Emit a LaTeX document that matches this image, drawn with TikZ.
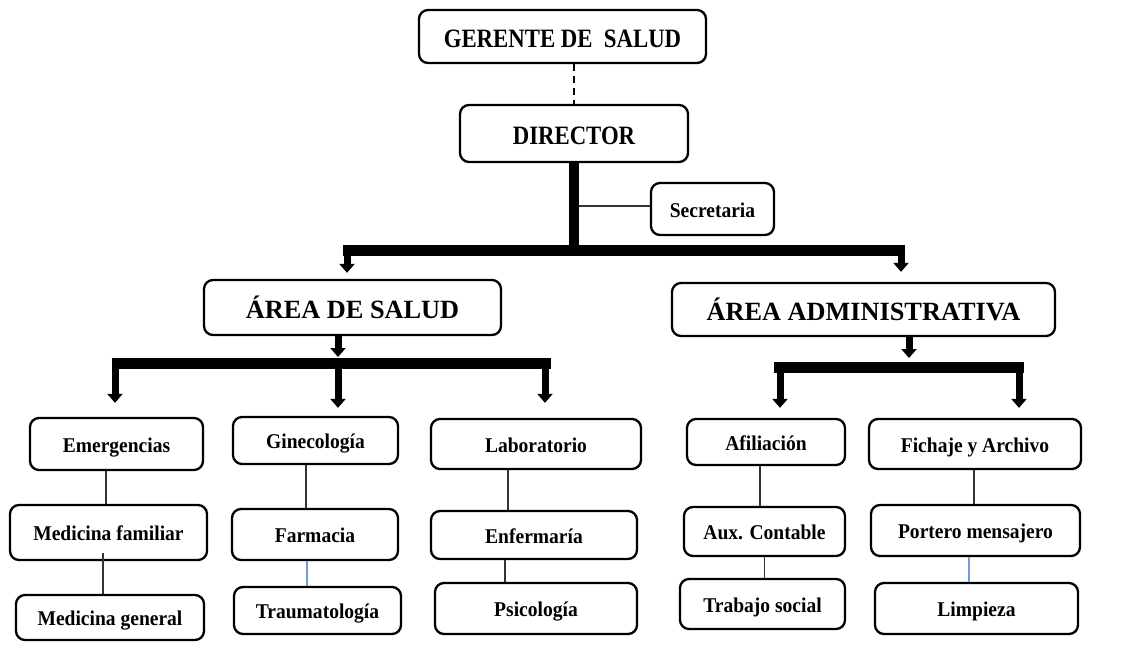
\documentclass[tikz,border=0pt]{standalone}
\usepackage{fontspec}
\setmainfont{Liberation Serif}
\newfontfamily\headfont{Liberation Serif}[FakeStretch=0.86]
\newfontfamily\unitfont{Liberation Serif}[FakeStretch=0.93]
\usetikzlibrary{positioning}
\usetikzlibrary{arrows.meta}
\definecolor{linkblue}{RGB}{112,158,212}

\begin{document}
\begin{tikzpicture}[x=1pt,y=-1pt,
		unit/.style={draw, line width=2.3pt, rounded corners=9pt, fill=white, inner sep=0pt, text height=17.5pt, text depth=1.5pt, font=\unitfont\fontsize{21}{24}\selectfont\bfseries},
		head/.style={unit, text height=23pt, text depth=0.5pt, font=\headfont\fontsize{26.5}{30}\selectfont\bfseries},
		area/.style={unit, text height=23pt, text depth=0.5pt, font=\fontsize{26.3}{30}\selectfont\bfseries},
		link/.style={line width=1.2pt, draw=black!80},
		bluelink/.style={line width=1.2pt, draw=linkblue},
		gap/.style={line width=1.6pt, dash pattern=on 7pt off 5pt},
		trunk/.style={line width=10pt},
		bus/.style={line width=11pt},
		drop/.style={line width=7pt, -{Triangle[width=15pt,length=9pt]}}]
					\useasboundingbox (0,0) rectangle (1132,645);

					% top levels
					\node [head, minimum width=287pt, minimum height=53pt] (ger) at (562.5,36.5) {GERENTE DE\ \ SALUD};
					\node [head, minimum width=228pt, minimum height=57pt] (dir) at (574,133.5) {DIRECTOR};
					\node [unit, minimum width=123pt, minimum height=52pt] (sec) at (712.5,209) {Secretaria};
					\node [area, minimum width=297pt, minimum height=55pt] (sal) at (352.5,307.5) {ÁREA DE SALUD};
					\node [area, minimum width=383pt, minimum height=53pt] (adm) at (863.5,309.5) {ÁREA ADMINISTRATIVA};

					% area de salud
					\node [unit, minimum width=173pt, minimum height=52pt] (eme) at (116.5,444) {Emergencias};
					\node [unit, minimum width=197pt, minimum height=55pt] (mfa) at (108.5,532.5) {Medicina familiar};
					\node [unit, minimum width=188pt, minimum height=45pt] (mge) at (110,617.5) {Medicina general};
					\node [unit, minimum width=165pt, minimum height=47pt] (gin) at (315.5,440.5) {Ginecología};
					\node [unit, minimum width=166pt, minimum height=51pt] (far) at (315,534.5) {Farmacia};
					\node [unit, minimum width=167pt, minimum height=47pt] (tra) at (317.5,610.5) {Traumatología};
					\node [unit, minimum width=210pt, minimum height=50pt] (lab) at (536,444) {Laboratorio};
					\node [unit, minimum width=206pt, minimum height=48pt] (enf) at (534,535) {Enfermaría};
					\node [unit, minimum width=202pt, minimum height=51pt] (psi) at (536,608.5) {Psicología};

					% area administrativa
					\node [unit, minimum width=158pt, minimum height=46pt] (afi) at (766,442) {Afiliación};
					\node [unit, minimum width=161pt, minimum height=49pt] (aux) at (764.5,531.5) {Aux. Contable};
					\node [unit, minimum width=165pt, minimum height=50pt] (trb) at (762.5,604) {Trabajo social};
					\node [unit, minimum width=212pt, minimum height=50pt] (fic) at (975,444) {Fichaje y Archivo};
					\node [unit, minimum width=209pt, minimum height=51pt] (por) at (975.5,530.5) {Portero mensajero};
					\node [unit, minimum width=203pt, minimum height=51pt] (lim) at (976.5,608.5) {Limpieza};

					% director down to the two areas
					\draw [gap] (ger.south -| dir.north) -- (dir.north);
					\coordinate (busL) at (347,250.5);
					\coordinate (busR) at (901,250.5);
					\draw [link] ([yshift=3pt]sec.west) -- ([yshift=3pt]sec.west -| dir.south);
					\draw [trunk] (dir.south) -- (dir.south |- busL);
					\draw [bus] ([xshift=-4pt]busL) -- ([xshift=4pt]busR);
					\draw [drop, shorten >=6pt] (busL) -- (busL |- sal.north);
					\draw [drop, shorten >=10pt] (busR) -- (busR |- adm.north);

					% area de salud down to its units
					\coordinate (salbus) at (338,363.5);
					\coordinate (salL) at (115,363.5);
					\coordinate (salR) at (545,363.5);
					\draw [drop, shorten >=6.5pt] (salbus |- sal.south) -- (salbus);
					\draw [bus] ([xshift=-3.5pt]salL) -- ([xshift=6pt]salR);
					\draw [drop, shorten >=14pt] (salL) -- (salL |- eme.north);
					\draw [drop, shorten >=8pt] (salbus) -- (salbus |- gin.north);
					\draw [drop, shorten >=15pt] (salR) -- (salR |- lab.north);

					% area administrativa down to its units
					\coordinate (admbus) at (909,367.5);
					\coordinate (admL) at (780,367.5);
					\coordinate (admR) at (1019,367.5);
					\draw [drop, shorten >=9.5pt] (admbus |- adm.south) -- (admbus);
					\draw [bus] ([xshift=-6pt]admL) -- ([xshift=5pt]admR);
					\draw [drop, shorten >=10pt] (admL) -- (admL |- afi.north);
					\draw [drop, shorten >=10pt] (admR) -- (admR |- fic.north);

					% thin links inside each column
					\draw [link] ([xshift=-10.5pt]eme.south) -- ([xshift=-10.5pt]eme.south |- mfa.north);
					\draw [link] ([xshift=-5.5pt,yshift=8pt]mfa.south) -- ([xshift=-5.5pt]mfa.south |- mge.north);
					\draw [link] ([xshift=-9.5pt]gin.south) -- ([xshift=-9.5pt]gin.south |- far.north);
					\draw [bluelink] ([xshift=-8pt]far.south) -- ([xshift=-8pt]far.south |- tra.north);
					\draw [link] ([xshift=-28pt]lab.south) -- ([xshift=-28pt]lab.south |- enf.north);
					\draw [link] ([xshift=-29pt]enf.south) -- ([xshift=-29pt]enf.south |- psi.north);
					\draw [link] ([xshift=-6pt]afi.south) -- ([xshift=-6pt]afi.south |- aux.north);
					\draw [link] (aux.south) -- (aux.south |- trb.north);
					\draw [link] ([xshift=-1pt]fic.south) -- ([xshift=-1pt]fic.south |- por.north);
					\draw [bluelink] ([xshift=-6.5pt]por.south) -- ([xshift=-6.5pt]por.south |- lim.north);
				\end{tikzpicture}
\end{document}
